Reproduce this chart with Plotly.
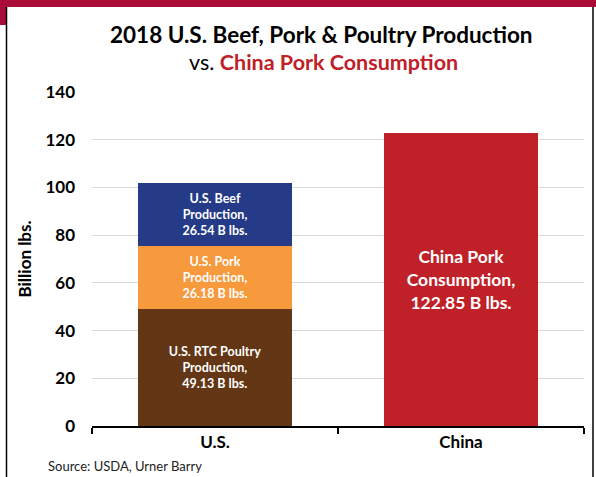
import plotly.graph_objects as go

# 2018 production and consumption, billion lbs.
us_category = ["U.S."]
china_category = ["China"]
poultry_values = [49.13]
pork_values = [26.18]
beef_values = [26.54]
china_pork_values = [122.85]

series_names = ["U.S. RTC Poultry Production", "U.S. Pork Production",
                "U.S. Beef Production"]
china_name = "China Pork Consumption"
y_ticks = [0, 20, 40, 60, 80, 100, 120, 140]

FONT = "Lato"
W, H = 596, 477
L, R, T, B = 92, 12, 92, 51

def label(name, v):
    parts = name.split(" ")
    return ("<b>" + " ".join(parts[:-1]) + "<br>" + parts[-1]
            + f",<br>{v:.2f} B lbs.</b>")

fig = go.Figure()

for name, vals, color in zip(series_names,
                             [poultry_values, pork_values, beef_values],
                             ["#633615", "#f7993d", "#253b87"]):
    fig.add_trace(go.Bar(
        x=us_category, y=vals, name=name, marker_color=color,
        marker_line_width=0,
        text=[label(name, v) for v in vals],
        textposition="inside", insidetextanchor="middle",
        constraintext="none",
        textfont=dict(family=FONT, size=12.5, color="white"),
        hoverinfo="skip",
    ))

fig.add_trace(go.Bar(
    x=china_category, y=china_pork_values, name=china_name,
    marker_color="#c02027", marker_line_width=0,
    text=[label(china_name, v) for v in china_pork_values],
    textposition="inside", insidetextanchor="middle",
    constraintext="none",
    textfont=dict(family=FONT, size=17.5, color="white"),
    hoverinfo="skip",
))

def px_x(p):
    return (p - L) / (W - L - R)

def px_y(q):
    return (H - B - q) / (H - T - B)

shapes = [
    # red header band and left tab
    dict(type="rect", xref="paper", yref="paper", x0=px_x(0), x1=px_x(W),
         y0=px_y(7), y1=px_y(0), fillcolor="#a90d37", line_width=0, layer="below"),
    dict(type="rect", xref="paper", yref="paper", x0=px_x(0), x1=px_x(6),
         y0=px_y(25), y1=px_y(0), fillcolor="#a90d37", line_width=0, layer="below"),
    # panel borders
    dict(type="line", xref="paper", yref="paper", x0=px_x(6.5), x1=px_x(6.5),
         y0=px_y(H), y1=px_y(7), line=dict(color="black", width=1.5)),
    dict(type="line", xref="paper", yref="paper", x0=px_x(593), x1=px_x(593),
         y0=px_y(H), y1=px_y(7), line=dict(color="black", width=1.5)),
]

annotations = [
    dict(text="<b>2018 U.S. Beef, Pork &amp; Poultry Production</b>",
         xref="paper", yref="paper", x=px_x(321), y=px_y(34),
         xanchor="center", yanchor="middle", showarrow=False,
         font=dict(family=FONT, size=22.5, color="black")),
    dict(text="vs. <b><span style='color:#c02027'>China Pork Consumption</span></b>",
         xref="paper", yref="paper", x=px_x(323), y=px_y(62),
         xanchor="center", yanchor="middle", showarrow=False,
         font=dict(family=FONT, size=21.5, color="black")),
    dict(text="Source: USDA, Urner Barry",
         xref="paper", yref="paper", x=px_x(46), y=px_y(466),
         xanchor="left", yanchor="middle", showarrow=False,
         font=dict(family=FONT, size=13, color="#222222")),
]

fig.update_layout(
    width=W, height=H,
    margin=dict(l=L, r=R, t=T, b=B, pad=0),
    barmode="stack", bargap=0.37,
    showlegend=False,
    plot_bgcolor="white", paper_bgcolor="white",
    font=dict(family=FONT, color="black"),
    shapes=shapes, annotations=annotations,
    xaxis=dict(
        type="category", categoryorder="array",
        categoryarray=us_category + china_category,
        showline=True, linecolor="black", linewidth=1.5,
        ticks="outside", tickson="boundaries", ticklen=6,
        tickcolor="black", tickwidth=1.5,
        tickfont=dict(family=FONT, size=17, color="black", weight="bold"),
        showgrid=False,
    ),
    yaxis=dict(
        range=[0, 140], tickvals=y_ticks,
        showgrid=True, gridcolor="#d9d9d9", gridwidth=1,
        zeroline=False, showline=False, ticks="",
        ticklabelstandoff=16,
        tickfont=dict(family=FONT, size=17, color="black", weight="bold"),
        title=dict(text="<b>Billion lbs.</b>", standoff=9,
                   font=dict(family=FONT, size=17, color="black")),
    ),
)

fig.write_html("out.html")
